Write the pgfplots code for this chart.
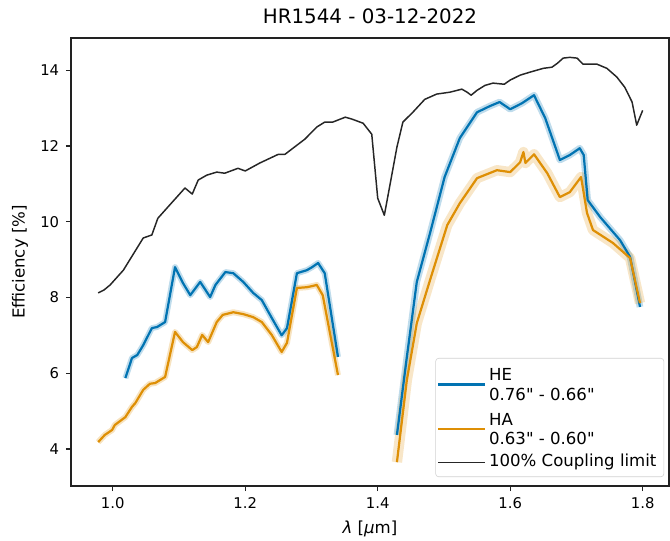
\documentclass[border=0pt]{standalone}
\usepackage{fontspec}
\setmainfont{DejaVu Sans}[Ligatures=TeXOff]
\usepackage{pgfplots}
\usepackage{pgfplotstable}
\pgfplotsset{compat=1.18}
\definecolor{cblue}{HTML}{0173B2}
\definecolor{corange}{HTML}{DE8F05}
\definecolor{spine}{HTML}{222222}
\newcommand{\dq}{\symbol{34}}

\pgfplotstableread{
x y
0.978 8.12
0.987 8.20
0.996 8.33
1.016 8.72
1.046 9.57
1.059 9.65
1.068 10.09
1.090 10.52
1.109 10.89
1.120 10.73
1.129 11.10
1.142 11.23
1.157 11.31
1.169 11.28
1.189 11.41
1.200 11.34
1.222 11.55
1.250 11.78
1.260 11.78
1.290 12.18
1.308 12.50
1.320 12.63
1.332 12.63
1.351 12.76
1.361 12.71
1.378 12.60
1.391 12.31
1.400 10.62
1.410 10.17
1.419 11.02
1.429 11.97
1.438 12.63
1.453 12.89
1.471 13.23
1.489 13.37
1.509 13.42
1.527 13.50
1.535 13.42
1.541 13.34
1.550 13.47
1.562 13.60
1.574 13.66
1.591 13.63
1.600 13.74
1.615 13.87
1.630 13.95
1.650 14.05
1.663 14.08
1.671 14.18
1.680 14.32
1.690 14.34
1.701 14.32
1.710 14.16
1.731 14.16
1.746 14.05
1.761 13.82
1.773 13.55
1.784 13.16
1.791 12.55
1.800 12.94
}\coupling

\pgfplotstableread{
x y
1.019 5.87
1.029 6.40
1.037 6.48
1.046 6.74
1.059 7.19
1.067 7.22
1.079 7.35
1.094 8.80
1.106 8.38
1.117 8.06
1.132 8.41
1.147 8.01
1.155 8.33
1.170 8.67
1.182 8.64
1.197 8.41
1.212 8.12
1.225 7.93
1.240 7.46
1.255 7.00
1.263 7.19
1.278 8.64
1.293 8.72
1.301 8.80
1.310 8.91
1.320 8.64
1.340 6.43
}\heL

\pgfplotstableread{
x y
1.429 4.37
1.444 6.43
1.459 8.41
1.479 9.70
1.501 11.18
1.524 12.21
1.550 12.89
1.569 13.05
1.584 13.16
1.600 12.97
1.618 13.13
1.636 13.34
1.653 12.73
1.675 11.63
1.690 11.76
1.705 11.94
1.711 11.76
1.717 10.57
1.736 10.12
1.766 9.51
1.781 9.07
1.796 7.75
}\heR

\pgfplotstableread{
x y
0.978 4.18
0.988 4.37
0.999 4.50
1.003 4.63
1.019 4.84
1.029 5.11
1.034 5.21
1.046 5.56
1.056 5.72
1.064 5.74
1.079 5.90
1.094 7.09
1.106 6.82
1.120 6.61
1.127 6.69
1.135 7.01
1.144 6.82
1.157 7.35
1.166 7.54
1.182 7.61
1.197 7.56
1.212 7.48
1.225 7.35
1.240 7.01
1.255 6.56
1.263 6.80
1.278 8.25
1.293 8.27
1.301 8.30
1.308 8.33
1.317 8.06
1.340 5.95
}\haL

\pgfplotstableread{
x y
1.429 3.65
1.444 5.82
1.459 7.32
1.479 8.46
1.505 9.91
1.524 10.49
1.550 11.15
1.580 11.36
1.600 11.31
1.615 11.57
1.620 11.84
1.623 11.55
1.636 11.78
1.656 11.28
1.675 10.65
1.690 10.78
1.707 11.18
1.716 10.23
1.725 9.78
1.755 9.44
1.781 9.04
1.796 7.85
}\haR

\begin{document}
\begin{tikzpicture}
\path[use as bounding box] (-48pt,-36.5pt) rectangle (404.7pt,328.4pt);
\begin{axis}[
  at={(0pt,0pt)}, anchor=south west,
  scale only axis, width=404pt, height=302.7pt,
  xmin=0.937, xmax=1.8397, ymin=3.02, ymax=14.85,
  xtick={1.0,1.2,1.4,1.6,1.8}, ytick={4,6,8,10,12,14},
  xticklabel style={/pgf/number format/fixed, /pgf/number format/fixed zerofill, /pgf/number format/precision=1, yshift=-1pt},
  yticklabel style={xshift=-1pt},
  /pgf/number format/assume math mode=true,
  ticklabel style={font=\fontsize{10}{12}\selectfont},
  tick align=outside, major tick length=3.5pt,
  xtick pos=bottom, ytick pos=left,
  tick style={spine, line width=0.8pt},
  axis line style={spine, line width=0.8pt},
  title={HR1544 - 03-12-2022},
  title style={font=\fontsize{13.4}{16}\selectfont, at={(0.5,1)}, anchor=base, yshift=4pt},
  xlabel={\textit{λ} [\textit{μ}m]},
  ylabel={Efficiency [\%]},
  label style={font=\fontsize{11.2}{13.4}\selectfont},
  xlabel style={at={(axis description cs:0.5,0)}, anchor=center, yshift=-29pt},
  ylabel style={at={(axis description cs:-0.0854,0.5)}, anchor=center},
  legend cell align=left,
  legend style={at={(0.992,0.02)}, anchor=south east, draw=gray!35, rounded corners=2pt,
    fill=white, fill opacity=0.8, text opacity=1, font=\fontsize{11.2}{13.4}\selectfont,
    row sep=3pt, inner xsep=1pt, inner ysep=4pt,
    nodes={inner xsep=2pt, inner ysep=1.5pt}},
  legend image code/.code={\draw[#1] (0pt,0pt) -- (24pt,0pt); \path (0pt,0pt) -- (31.6pt,0pt);},
]
% bands
\addplot[cblue, opacity=0.25, line width=4pt, line join=round, forget plot] table {\heL};
\addplot[cblue, opacity=0.25, line width=4.5pt, line join=round, forget plot] table {\heR};
\addplot[corange, opacity=0.25, line width=4pt, line join=round, forget plot] table {\haL};
\addplot[corange, opacity=0.22, line width=7pt, line join=round, forget plot] table {\haR};
% lines
\addplot[cblue, line width=1.5pt, line join=round] table {\heL};
\addlegendentry[align=left]{\strut HE\\\strut 0.76\dq{} - 0.66\dq}
\addplot[cblue, line width=1.5pt, line join=round, forget plot] table {\heR};
\addplot[corange, line width=1.5pt, line join=round] table {\haL};
\addlegendentry[align=left]{\strut HA\\\strut 0.63\dq{} - 0.60\dq}
\addplot[corange, line width=1.5pt, line join=round, forget plot] table {\haR};
\addplot[black!85, line width=1pt, line join=round] table {\coupling};
\addlegendentry{\raisebox{0pt}[7pt][2.5pt]{100\% Coupling limit\hspace{2pt}}}
\end{axis}
\end{tikzpicture}
\end{document}
